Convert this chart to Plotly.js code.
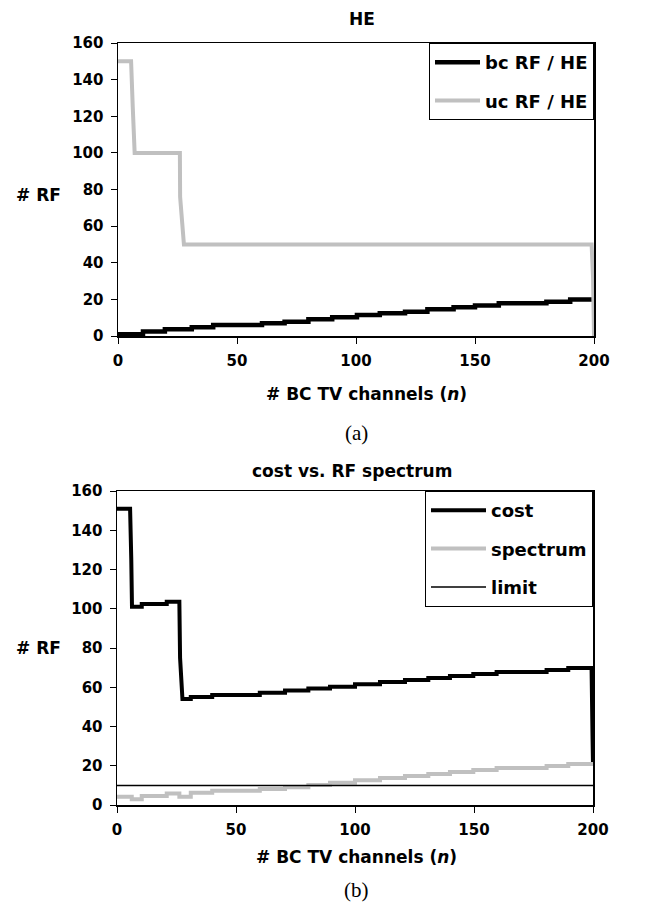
<!DOCTYPE html>
<html>
<head>
<meta charset="utf-8">
<script src="https://cdn.plot.ly/plotly-3.0.1.min.js"></script>
<style>html,body{margin:0;padding:0;background:#fff;}#chart{width:654px;height:917px;}</style>
</head>
<body>
<div id="chart"></div>
<script>
// ---------- Data: panel (a) "HE" ----------
var bcStepX = [0, 10.5, 19.7, 31, 40, 60.5, 70, 80, 90, 100.4, 110, 120.6, 130, 141, 150, 160, 180, 190, 200];
var bcStepY = [1, 2.4, 3.7, 4.8, 6, 6.9, 7.8, 9.1, 10.2, 11.5, 12.4, 13.3, 14.6, 15.7, 16.6, 17.9, 18.7, 20, 20];
var ucX = [0, 5.5, 6.2, 7, 26, 26.1, 27.7, 199, 199.6, 200];
var ucY = [150, 150, 125, 100, 100, 76, 50, 50, 32, 0];

// ---------- Data: panel (b) "cost vs. RF spectrum" ----------
var costX = [0, 5.5, 6.0, 6.3, 10.4, 10.4, 20.9, 20.9, 26.2, 26.5, 27.5, 31, 31, 40, 40, 60, 60, 70.6, 70.6, 80.4, 80.4, 89.5, 89.5, 100, 100, 110.5, 110.5, 121, 121, 130.8, 130.8, 139.9, 139.9, 149.7, 149.7, 159.5, 159.5, 180.5, 180.5, 189.6, 189.6, 199.4, 199.8, 200];
var costY = [151, 151, 125, 101, 101, 102.4, 102.4, 103.6, 103.6, 75, 54, 54, 55, 55, 56, 56, 57.2, 57.2, 58.3, 58.3, 59.3, 59.3, 60.3, 60.3, 61.5, 61.5, 62.7, 62.7, 63.7, 63.7, 64.7, 64.7, 65.7, 65.7, 66.7, 66.7, 67.8, 67.8, 68.8, 68.8, 69.8, 69.8, 35, 21];
var specStepX = [0, 6.2, 10.4, 20.9, 26.2, 31, 40, 60, 70.6, 80.4, 89.5, 100, 110.5, 121, 130.8, 139.9, 149.7, 159.5, 180.5, 189.6, 200];
var specStepY = [4.2, 2.9, 4.6, 5.9, 4.2, 6.3, 7.3, 8.2, 9, 10.2, 11.4, 12.6, 13.8, 14.8, 15.8, 16.8, 17.8, 18.9, 19.9, 20.9, 20.9];
var limitX = [0, 200];
var limitY = [10, 10];

var xTickVals = [0, 50, 100, 150, 200];
var yTickVals = [0, 20, 40, 60, 80, 100, 120, 140, 160];

// ---------- Styling ----------
var W = 654, H = 917;
var SANS = 'DejaVu Sans, Verdana, sans-serif';
var SERIF = 'Liberation Serif, Times New Roman, serif';
var GRAY = '#c0c0c0';
function px(x){ return x / W; }
function py(y){ return 1 - y / H; }

var tickFont = {family: SANS, size: 15, color: '#000', weight: 'bold'};
function xAxis(dom, anchor){
  return {domain: dom, anchor: anchor, range: [0, 200], tickvals: xTickVals,
    showline: true, mirror: true, linecolor: '#000', linewidth: 1.5,
    ticks: 'outside', ticklen: 6, tickwidth: 1, tickcolor: '#000',
    showgrid: false, zeroline: false, tickfont: tickFont, ticklabelstandoff: 4, fixedrange: true};
}
function yAxis(dom, anchor){
  return {domain: dom, anchor: anchor, range: [0, 160], tickvals: yTickVals,
    showline: true, mirror: true, linecolor: '#000', linewidth: 1.5,
    ticks: 'outside', ticklen: 6, tickwidth: 1, tickcolor: '#000',
    showgrid: false, zeroline: false, tickfont: tickFont, ticklabelstandoff: 4, fixedrange: true};
}

var traces = [
  {x: bcStepX, y: bcStepY, type: 'scatter', mode: 'lines', line: {shape: 'hv', color: '#000', width: 4.5},
   name: 'bc RF / HE', xaxis: 'x', yaxis: 'y', legend: 'legend', legendgroup: 'a1'},
  {x: ucX, y: ucY, type: 'scatter', mode: 'lines', line: {color: GRAY, width: 4},
   name: 'uc RF / HE', xaxis: 'x', yaxis: 'y', legend: 'legend', legendgroup: 'a2'},
  {x: costX, y: costY, type: 'scatter', mode: 'lines', line: {color: '#000', width: 4},
   name: 'cost', xaxis: 'x2', yaxis: 'y2', legend: 'legend2', legendgroup: 'b1'},
  {x: specStepX, y: specStepY, type: 'scatter', mode: 'lines', line: {shape: 'hv', color: GRAY, width: 4},
   name: 'spectrum', xaxis: 'x2', yaxis: 'y2', legend: 'legend2', legendgroup: 'b2'},
  {x: limitX, y: limitY, type: 'scatter', mode: 'lines', line: {color: '#000', width: 1.5},
   name: 'limit', xaxis: 'x2', yaxis: 'y2', legend: 'legend2', legendgroup: 'b3'}
];

function ann(text, x, y, size, family, extra){
  var a = {text: text, xref: 'paper', yref: 'paper', x: px(x), y: py(y), xanchor: 'center', yanchor: 'middle',
    showarrow: false, font: {family: family || SANS, size: size, color: '#000'}};
  for (var k in extra) a[k] = extra[k];
  return a;
}

var legendFont = {family: SANS, size: 18, color: '#000', weight: 'bold'};
var layout = {
  width: W, height: H, autosize: false,
  margin: {l: 0, r: 0, t: 0, b: 0, pad: 0},
  paper_bgcolor: '#fff', plot_bgcolor: '#fff',
  showlegend: true,
  xaxis: xAxis([px(118), px(594)], 'y'),
  yaxis: yAxis([py(336), py(43)], 'x'),
  xaxis2: xAxis([px(117), px(593)], 'y2'),
  yaxis2: yAxis([py(805), py(491)], 'x2'),
  legend: {x: px(594), y: py(43), xanchor: 'right', yanchor: 'top', bgcolor: '#fff',
    bordercolor: '#000', borderwidth: 1, font: legendFont, itemwidth: 45,
    traceorder: 'grouped', tracegroupgap: 12},
  legend2: {x: px(593), y: py(491), xanchor: 'right', yanchor: 'top', bgcolor: '#fff',
    bordercolor: '#000', borderwidth: 1, font: legendFont, itemwidth: 55,
    traceorder: 'grouped', tracegroupgap: 12},
  annotations: [
    ann('<b>HE</b>', 362, 19, 17),
    ann('<b># RF</b>', 38, 195, 17),
    ann('<b># BC TV channels (<i>n</i>)</b>', 366, 394, 17),
    ann('(a)', 357, 433, 21, SERIF),
    ann('<b>cost vs. RF spectrum</b>', 352, 471, 17),
    ann('<b># RF</b>', 38, 648, 17),
    ann('<b># BC TV channels (<i>n</i>)</b>', 357, 857, 17),
    ann('(b)', 357, 890, 21, SERIF)
  ]
};

Plotly.newPlot('chart', traces, layout, {staticPlot: true, displayModeBar: false});
</script>
</body>
</html>
